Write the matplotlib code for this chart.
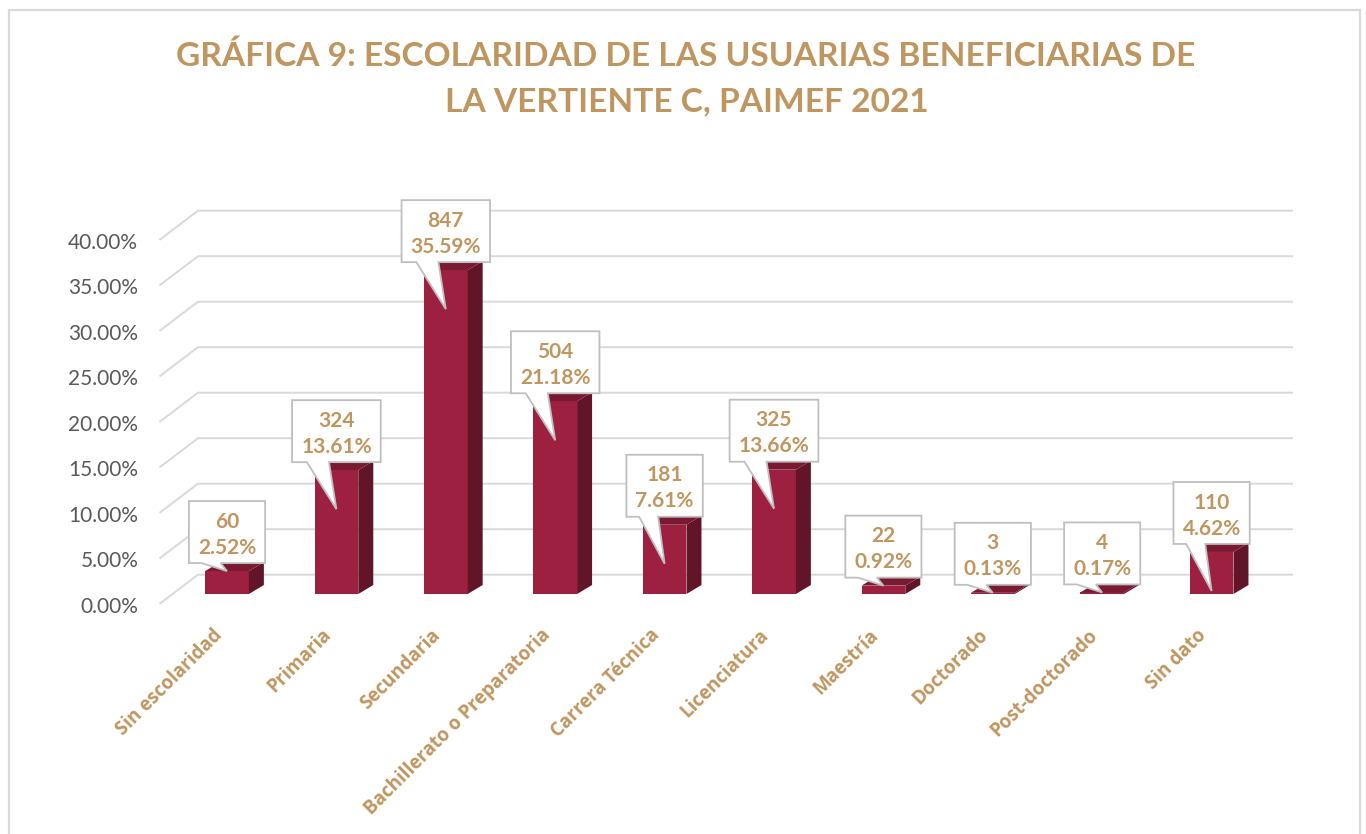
import matplotlib
matplotlib.use("Agg")
import matplotlib.pyplot as plt
from matplotlib.patches import Polygon, Rectangle
from matplotlib.transforms import ScaledTranslation

# ---------------- data ----------------
categories = ["Sin escolaridad", "Primaria", "Secundaria", "Bachillerato o Preparatoria",
              "Carrera Técnica", "Licenciatura", "Maestría", "Doctorado",
              "Post-doctorado", "Sin dato"]
counts = [60, 324, 847, 504, 181, 325, 22, 3, 4, 110]
percents = [2.52, 13.61, 35.59, 21.18, 7.61, 13.66, 0.92, 0.13, 0.17, 4.62]
y_ticks = [0, 5, 10, 15, 20, 25, 30, 35, 40]
y_tick_labels = ["0.00%", "5.00%", "10.00%", "15.00%", "20.00%",
                 "25.00%", "30.00%", "35.00%", "40.00%"]
title_lines = ["GRÁFICA 9: ESCOLARIDAD DE LAS USUARIAS BENEFICIARIAS DE",
               "LA VERTIENTE C, PAIMEF 2021"]

# ---------------- style ----------------
W, H, DPI = 1366, 834, 100
GOLD = "#BF9660"
GRID = "#D9D9D9"
FRONT = "#9E2040"
SIDE = "#621429"
TOP = "#7A1A32"
EDGE = "#BFBFBF"

plt.rcParams["font.family"] = ["Lato", "DejaVu Sans"]

fig = plt.figure(figsize=(W / DPI, H / DPI), dpi=DPI)
fig.patch.set_facecolor("white")

# outer frame
fig.patches.append(Rectangle((9 / W, -0.1), 1351 / W, (H - 10) / H + 0.1,
                             transform=fig.transFigure, fill=False,
                             ec=GRID, lw=1.6, zorder=0))

# title
fig.text(685.5 / W, 1 - 65.7 / H, title_lines[0], ha="center", va="baseline",
         fontsize=24.1, fontweight="bold", color=GOLD)
fig.text(686.5 / W, 1 - 111.7 / H, title_lines[1], ha="center", va="baseline",
         fontsize=24.1, fontweight="bold", color=GOLD)

# plot axes (front plane of the bars)
ax_left, ax_right, ax_bottom, ax_top = 172.3, 1266.3, 594.0, 230.0
ax = fig.add_axes([ax_left / W, (H - ax_bottom) / H,
                   (ax_right - ax_left) / W, (ax_bottom - ax_top) / H])
n = len(categories)
ax.set_xlim(-0.5, n - 0.5)
ax.set_ylim(0, 40)
for s in ax.spines.values():
    s.set_visible(False)
ax.patch.set_visible(False)

px_x = (ax_right - ax_left) / n      # pixels per category
px_y = (ax_bottom - ax_top) / 40.0   # pixels per percent


def ddx(p):
    return p / px_x


def ddy(p):
    return p / px_y


BACK = (25.7, 19.3)
FLOOR = (-12.0, -9.3)
DEPTH = (15.0, 9.0)

# gridlines (side wall + back wall)
for t in y_ticks:
    xs = [-0.5 + ddx(FLOOR[0]), -0.5 + ddx(BACK[0]), n - 0.5 + ddx(BACK[0])]
    ys = [t + ddy(FLOOR[1]), t + ddy(BACK[1]), t + ddy(BACK[1])]
    ax.plot(xs, ys, color=GRID, lw=1.4, zorder=1, clip_on=False,
            solid_joinstyle="miter")

# bars
bw = 0.40
xpos = list(range(n))
ax.bar(xpos, percents, width=bw, color=FRONT, zorder=3, clip_on=False)
for i, v in zip(xpos, percents):
    r = i + bw / 2
    l = i - bw / 2
    side = [(r, 0), (r + ddx(DEPTH[0]), ddy(DEPTH[1])),
            (r + ddx(DEPTH[0]), v + ddy(DEPTH[1])), (r, v)]
    top = [(l, v), (l + ddx(DEPTH[0]), v + ddy(DEPTH[1])),
           (r + ddx(DEPTH[0]), v + ddy(DEPTH[1])), (r, v)]
    ax.add_patch(Polygon(side, closed=True, fc=SIDE, ec="none", zorder=3, clip_on=False))
    ax.add_patch(Polygon(top, closed=True, fc=TOP, ec="none", zorder=3, clip_on=False))

# y tick labels
ax.set_yticks(y_ticks)
ax.set_yticklabels(y_tick_labels)
ax.tick_params(axis="y", length=0, pad=24.5, labelsize=15, labelcolor="#595959")
for lbl in ax.get_yticklabels():
    lbl.set_transform(lbl.get_transform() +
                      ScaledTranslation(0, -10.8 / DPI, fig.dpi_scale_trans))

# x tick labels
ax.set_xticks(xpos)
ax.set_xticklabels(categories, rotation=45, ha="right", rotation_mode="anchor",
                   fontweight="bold", family=["Open Sans", "DejaVu Sans"])
ax.tick_params(axis="x", length=0, pad=22.5, labelsize=13.5, labelcolor=GOLD)
for lbl in ax.get_xticklabels():
    lbl.set_transform(lbl.get_transform() +
                      ScaledTranslation(-15 / DPI, 0, fig.dpi_scale_trans))

# callouts
renderer = fig.canvas.get_renderer()
for i, v, c in zip(xpos, percents, counts):
    box_bottom = v + ddy(8)
    box_top = box_bottom + ddy(62)
    t1 = ax.text(i, box_top - ddy(26.6), f"{c}", ha="center", va="baseline",
                 fontsize=15, fontweight="bold", color=GOLD, zorder=7)
    t2 = ax.text(i, box_top - ddy(52.6), f"{v:.2f}%", ha="center", va="baseline",
                 fontsize=15, fontweight="bold", color=GOLD, zorder=7)
    wpx = max(t1.get_window_extent(renderer).width,
              t2.get_window_extent(renderer).width) + 18
    L = i - ddx(wpx / 2)
    R = i + ddx(wpx / 2)
    w = R - L
    tip_y = v - ddy(39) if v > ddy(39) else v
    xb1 = L + w * 2 / 12
    xb2 = L + w * 5 / 12
    poly = [(L, box_top), (R, box_top), (R, box_bottom), (xb2, box_bottom),
            (i, tip_y), (xb1, box_bottom), (L, box_bottom)]
    ax.add_patch(Polygon(poly, closed=True, fc="white", ec=EDGE, lw=1.3,
                         zorder=6, clip_on=False, joinstyle="miter"))

fig.savefig("out.png", dpi=DPI, facecolor="white")
